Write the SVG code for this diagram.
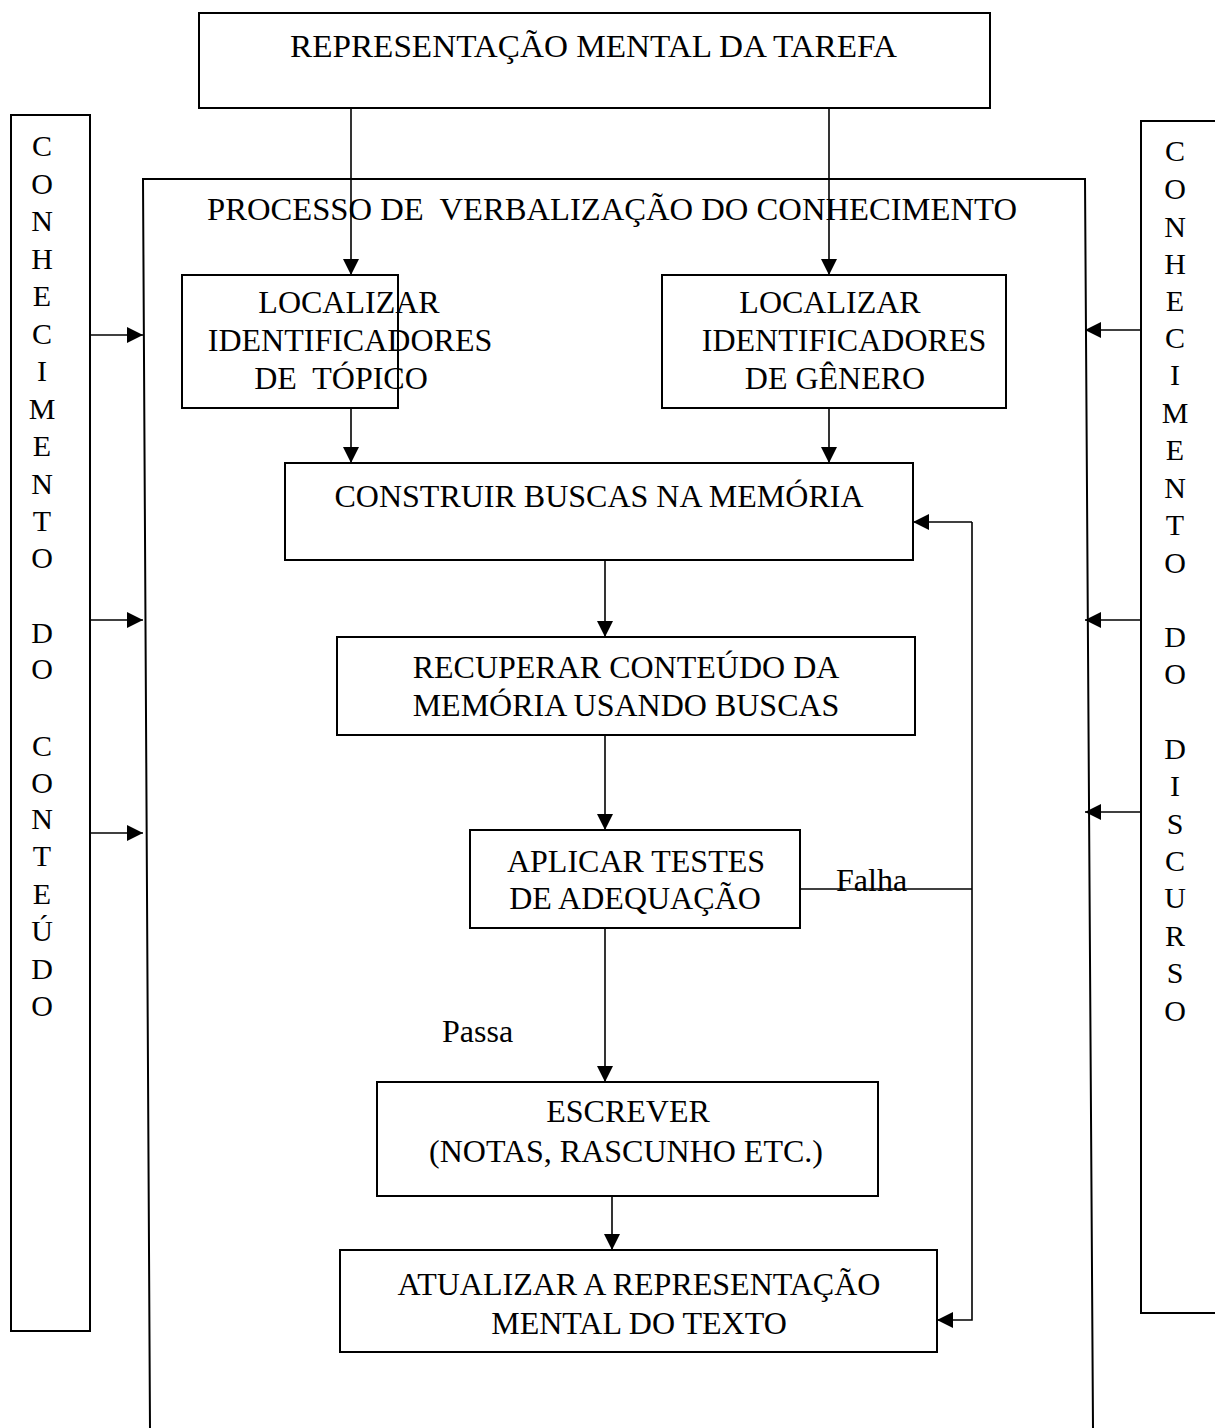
<svg xmlns="http://www.w3.org/2000/svg" width="1215" height="1428" viewBox="0 0 1215 1428">
<style>
.b{fill:none;stroke:#000;stroke-width:2}
.l{fill:none;stroke:#000;stroke-width:1.6}
text{font-family:"Liberation Serif","Times New Roman",serif;font-size:32px;fill:#000}
.c{text-anchor:middle}
.v{font-size:30px;text-anchor:middle}
</style>
<defs>
<marker id="ab" viewBox="0 0 10 10" refX="10" refY="5" markerWidth="20" markerHeight="16" markerUnits="userSpaceOnUse" orient="auto"><path d="M0 0L10 5L0 10z" fill="#000"/></marker>
</defs>
<g id="tarefa"><rect class="b" x="199" y="13" width="791" height="95"/><text x="290" y="57" textLength="607" lengthAdjust="spacingAndGlyphs">REPRESENTAÇÃO MENTAL DA TAREFA</text></g>
<g id="conteudo"><rect class="b" x="11" y="115" width="79" height="1216"/>
<text class="v">
<tspan x="42" y="156">C</tspan><tspan x="42" y="194">O</tspan><tspan x="42" y="231">N</tspan><tspan x="42" y="269">H</tspan><tspan x="42" y="306">E</tspan><tspan x="42" y="344">C</tspan><tspan x="42" y="381">I</tspan><tspan x="42" y="419">M</tspan><tspan x="42" y="456">E</tspan><tspan x="42" y="494">N</tspan><tspan x="42" y="531">T</tspan><tspan x="42" y="568">O</tspan><tspan x="42" y="643">D</tspan><tspan x="42" y="679">O</tspan><tspan x="42" y="756">C</tspan><tspan x="42" y="793">O</tspan><tspan x="42" y="829">N</tspan><tspan x="42" y="866">T</tspan><tspan x="42" y="904">E</tspan><tspan x="42" y="941">Ú</tspan><tspan x="42" y="979">D</tspan><tspan x="42" y="1016">O</tspan></text></g>
<g id="discurso"><path class="b" d="M1216 121H1141V1313H1216"/>
<text class="v">
<tspan x="1175" y="161">C</tspan><tspan x="1175" y="199">O</tspan><tspan x="1175" y="237">N</tspan><tspan x="1175" y="274">H</tspan><tspan x="1175" y="311">E</tspan><tspan x="1175" y="348">C</tspan><tspan x="1175" y="385">I</tspan><tspan x="1175" y="423">M</tspan><tspan x="1175" y="460">E</tspan><tspan x="1175" y="498">N</tspan><tspan x="1175" y="535">T</tspan><tspan x="1175" y="573">O</tspan><tspan x="1175" y="647">D</tspan><tspan x="1175" y="684">O</tspan><tspan x="1175" y="759">D</tspan><tspan x="1175" y="796">I</tspan><tspan x="1175" y="834">S</tspan><tspan x="1175" y="871">C</tspan><tspan x="1175" y="908">U</tspan><tspan x="1175" y="946">R</tspan><tspan x="1175" y="983">S</tspan><tspan x="1175" y="1021">O</tspan></text></g>
<g id="processo"><path class="b" d="M150 1428L143 179H1085L1093 1428"/><text x="207" y="220" textLength="810" lengthAdjust="spacingAndGlyphs" xml:space="preserve">PROCESSO DE  VERBALIZAÇÃO DO CONHECIMENTO</text></g>
<g id="topico"><rect class="b" x="182" y="275" width="216" height="133"/><text class="c" xml:space="preserve"><tspan x="349" y="313">LOCALIZAR</tspan><tspan x="350" y="351">IDENTIFICADORES</tspan><tspan x="341" y="389">DE  TÓPICO</tspan></text></g>
<g id="genero"><rect class="b" x="662" y="275" width="344" height="133"/><text class="c"><tspan x="830" y="313">LOCALIZAR</tspan><tspan x="844" y="351">IDENTIFICADORES</tspan><tspan x="835" y="389">DE GÊNERO</tspan></text></g>
<g id="construir"><rect class="b" x="285" y="463" width="628" height="97"/><text class="c" x="599" y="507">CONSTRUIR BUSCAS NA MEMÓRIA</text></g>
<g id="recuperar"><rect class="b" x="337" y="637" width="578" height="98"/><text class="c"><tspan x="626" y="678">RECUPERAR CONTEÚDO DA</tspan><tspan x="626" y="716">MEMÓRIA USANDO BUSCAS</tspan></text></g>
<g id="aplicar"><rect class="b" x="470" y="830" width="330" height="98"/><text class="c"><tspan x="636" y="872">APLICAR TESTES</tspan><tspan x="635" y="909">DE ADEQUAÇÃO</tspan></text></g>
<g id="escrever"><rect class="b" x="377" y="1082" width="501" height="114"/><text class="c"><tspan x="628" y="1122">ESCREVER</tspan><tspan x="626" y="1162">(NOTAS, RASCUNHO ETC.)</tspan></text></g>
<g id="atualizar"><rect class="b" x="340" y="1250" width="597" height="102"/><text class="c"><tspan x="639" y="1295">ATUALIZAR A REPRESENTAÇÃO</tspan><tspan x="639" y="1334">MENTAL DO TEXTO</tspan></text></g>
<g id="connectors">
<path class="l" d="M351 108V275" marker-end="url(#ab)"/>
<path class="l" d="M829 108V275" marker-end="url(#ab)"/>
<path class="l" d="M351 408V463" marker-end="url(#ab)"/>
<path class="l" d="M829 408V463" marker-end="url(#ab)"/>
<path class="l" d="M605 560V637" marker-end="url(#ab)"/>
<path class="l" d="M605 735V830" marker-end="url(#ab)"/>
<path class="l" d="M605 928V1082" marker-end="url(#ab)"/>
<path class="l" d="M612 1196V1250" marker-end="url(#ab)"/>
<path class="l" d="M800 889H972"/>
<path class="l" d="M972 522V1320H937" marker-end="url(#ab)"/>
<path class="l" d="M972 522H913" marker-end="url(#ab)"/>
<path class="l" d="M90 335H143" marker-end="url(#ab)"/>
<path class="l" d="M90 620H143" marker-end="url(#ab)"/>
<path class="l" d="M90 833H143" marker-end="url(#ab)"/>
<path class="l" d="M1141 330H1085" marker-end="url(#ab)"/>
<path class="l" d="M1141 620H1085" marker-end="url(#ab)"/>
<path class="l" d="M1141 812H1085" marker-end="url(#ab)"/>
<text x="836" y="891">Falha</text>
<text x="442" y="1042">Passa</text>
</g>
</svg>
